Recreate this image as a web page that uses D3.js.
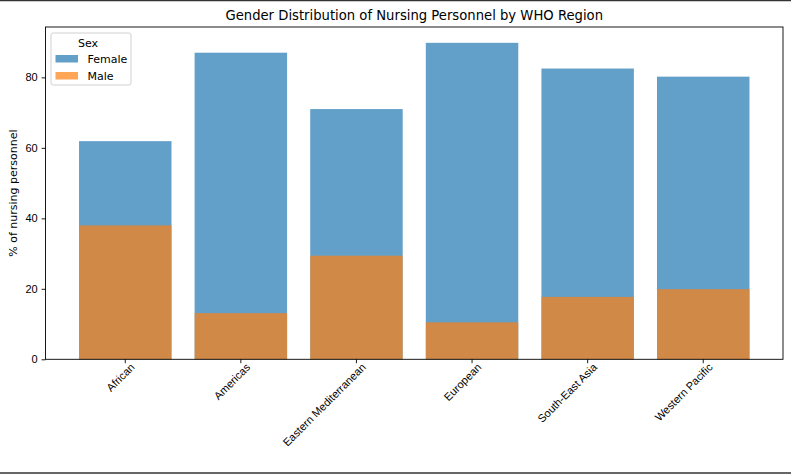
<!DOCTYPE html>
<html>
<head>
<meta charset="utf-8">
<script src="https://cdn.jsdelivr.net/npm/d3@7"></script>
<style>
  body { margin: 0; background: #fff; }
  svg { display: block; font-family: "DejaVu Sans", sans-serif; }
</style>
</head>
<body>
<div id="chart"></div>
<script>
// ---------------------------------------------
// ---------          Data            ----------
// ---------------------------------------------
const regions = ["African", "Americas", "Eastern Mediterranean", "European", "South-East Asia", "Western Pacific"];
const femaleValues = [61.9, 87.0, 71.0, 89.8, 82.5, 80.2];
const maleValues = [38.0, 13.1, 29.4, 10.5, 17.7, 19.9];
const yTicks = [0, 20, 40, 60, 80];
const seriesNames = ["Female", "Male"];

const width = 791, height = 474;
const margin = { top: 27, right: 8, left: 45.5 };
const plotRight = width - margin.right;
const plotBottom = 359.3;
const fontSize = "11px";

const colors = { Female: "#1f77b4", Male: "#ff7f0e" };

const svg = d3.select("#chart")
  .append("svg")
    .attr("width", width)
    .attr("height", height);

// frame lines seen at top and bottom of the picture
svg.append("line")
  .attr("x1", 0).attr("x2", width).attr("y1", 0.5).attr("y2", 0.5)
  .style("stroke", "#333").style("stroke-width", 1.5);
svg.append("line")
  .attr("x1", 0).attr("x2", width).attr("y1", height - 1).attr("y2", height - 1)
  .style("stroke", "#333").style("stroke-width", 1.5);

// ---------------------------------------------
// ---------         Scales           ----------
// ---------------------------------------------
const x = d3.scaleBand()
  .domain(regions)
  .range([margin.left, plotRight])
  .paddingInner(0.2)
  .paddingOuter(0.29);

const yMax = d3.max(femaleValues.concat(maleValues)) * 1.05;
const y = d3.scaleLinear().domain([0, yMax]).range([plotBottom, margin.top]);

// ---------------------------------------------
// ---------          Bars            ----------
// ---------------------------------------------
svg.append("g")
  .selectAll("rect")
  .data(regions.map((r, i) => ({ region: r, value: femaleValues[i] })))
  .join("rect")
    .attr("x", d => x(d.region))
    .attr("y", d => y(d.value))
    .attr("width", x.bandwidth())
    .attr("height", d => y(0) - y(d.value))
    .style("fill", colors.Female)
    .style("fill-opacity", 0.7);

svg.append("g")
  .selectAll("rect")
  .data(regions.map((r, i) => ({ region: r, value: maleValues[i] })))
  .join("rect")
    .attr("x", d => x(d.region))
    .attr("y", d => y(d.value))
    .attr("width", x.bandwidth())
    .attr("height", d => y(0) - y(d.value))
    .style("fill", colors.Male)
    .style("fill-opacity", 0.7);

// ---------------------------------------------
// ---------          Axes            ----------
// ---------------------------------------------
const yAxis = svg.append("g")
  .attr("transform", "translate(" + margin.left + ",0)")
  .call(d3.axisLeft(y).tickValues(yTicks).tickSize(3.9).tickPadding(3.9).tickFormat(d3.format("d")));
yAxis.select(".domain").remove();
yAxis.selectAll("text").style("font-size", fontSize).style("fill", "#000");
yAxis.selectAll("line").style("stroke", "#000").style("stroke-width", 0.9);

const xAxis = svg.append("g")
  .attr("transform", "translate(0," + plotBottom + ")")
  .call(d3.axisBottom(x).tickSize(3.9).tickPadding(3.9));
xAxis.select(".domain").remove();
xAxis.selectAll("line").style("stroke", "#000").style("stroke-width", 0.9);
xAxis.selectAll("text")
  .style("font-size", fontSize)
  .style("fill", "#000")
  .attr("text-anchor", "end")
  .attr("dy", "0.75em")
  .attr("y", 5)
  .attr("x", 1)
  .attr("transform", "rotate(-45)");

// spines
svg.append("rect")
  .attr("x", margin.left)
  .attr("y", margin.top)
  .attr("width", plotRight - margin.left)
  .attr("height", plotBottom - margin.top)
  .style("fill", "none")
  .style("stroke", "#000")
  .style("stroke-width", 0.9);

// title and axis label
svg.append("text")
  .attr("x", (margin.left + plotRight) / 2)
  .attr("y", 20)
  .attr("text-anchor", "middle")
  .style("font-size", "13.2px")
  .text("Gender Distribution of Nursing Personnel by WHO Region");

svg.append("text")
  .attr("transform", "translate(17," + ((margin.top + plotBottom) / 2) + ") rotate(-90)")
  .attr("text-anchor", "middle")
  .style("font-size", fontSize)
  .text("% of nursing personnel");

// ---------------------------------------------
// ---------         Legend           ----------
// ---------------------------------------------
const legend = svg.append("g").attr("transform", "translate(51,33)");

legend.append("rect")
  .attr("width", 80)
  .attr("height", 52)
  .attr("rx", 2)
  .style("fill", "#fff")
  .style("fill-opacity", 0.8)
  .style("stroke", "#ccc")
  .style("stroke-width", 0.9);

legend.append("text")
  .attr("x", 37)
  .attr("y", 14)
  .attr("text-anchor", "middle")
  .style("font-size", fontSize)
  .text("Sex");

const entries = legend.selectAll(".entry")
  .data(seriesNames)
  .join("g")
    .attr("class", "entry")
    .attr("transform", (d, i) => "translate(4.5," + (22 + i * 17) + ")");

entries.append("rect")
  .attr("width", 22.5)
  .attr("height", 7.5)
  .style("fill", d => colors[d])
  .style("fill-opacity", 0.7);

entries.append("text")
  .attr("x", 32)
  .attr("y", 8)
  .style("font-size", fontSize)
  .text(d => d);
</script>
</body>
</html>
